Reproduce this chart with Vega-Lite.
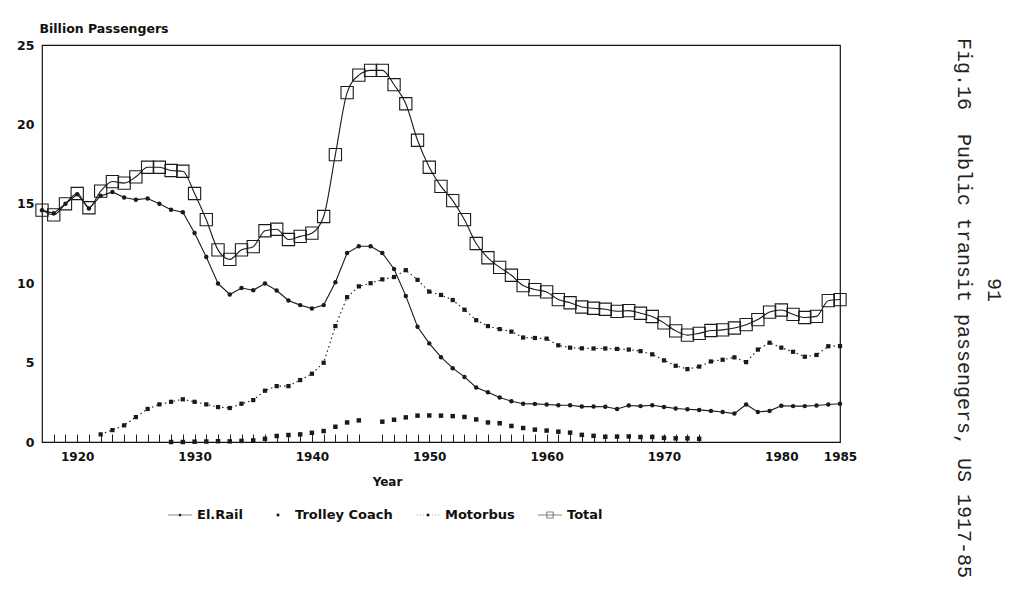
{
  "$schema": "https://vega.github.io/schema/vega-lite/v6.json",
  "width": 798,
  "height": 397,
  "autosize": {"type": "none"},
  "padding": {"left": 42, "top": 45, "right": 184, "bottom": 171},
  "background": "white",
  "config": {
    "view": {"stroke": "#111", "strokeWidth": 1.2},
    "axis": {"labelFont": "DejaVu Sans", "labelFontWeight": "bold", "labelColor": "#111", "titleFont": "DejaVu Sans", "titleFontWeight": "bold", "titleColor": "#111", "grid": false, "ticks": false, "domain": false}
  },
  "title": {
    "text": ["\u200b\u00a0\u00a0\u00a0\u00a0\u00a0\u00a0\u00a0\u00a0\u00a0\u00a0\u00a0\u00a0\u00a0\u00a0\u00a0\u00a0\u00a0\u00a0\u00a0\u00a091", "Fig.16\u00a0\u00a0Public transit passengers, US 1917-85"],
    "orient": "right",
    "anchor": "start",
    "frame": "group",
    "font": "Liberation Mono",
    "fontSize": 20,
    "fontWeight": "normal",
    "color": "#222",
    "lineHeight": 30,
    "offset": 97,
    "dx": -7
  },
  "datasets": {
    "passengers": [
      {"year": 1917, "series": "El.Rail", "value": 14.6}, {"year": 1918, "series": "El.Rail", "value": 14.4}, {"year": 1919, "series": "El.Rail", "value": 15.0},
      {"year": 1920, "series": "El.Rail", "value": 15.6}, {"year": 1921, "series": "El.Rail", "value": 14.7}, {"year": 1922, "series": "El.Rail", "value": 15.5},
      {"year": 1923, "series": "El.Rail", "value": 15.75}, {"year": 1924, "series": "El.Rail", "value": 15.4}, {"year": 1925, "series": "El.Rail", "value": 15.26},
      {"year": 1926, "series": "El.Rail", "value": 15.33}, {"year": 1927, "series": "El.Rail", "value": 15.0}, {"year": 1928, "series": "El.Rail", "value": 14.63},
      {"year": 1929, "series": "El.Rail", "value": 14.47}, {"year": 1930, "series": "El.Rail", "value": 13.16}, {"year": 1931, "series": "El.Rail", "value": 11.65},
      {"year": 1932, "series": "El.Rail", "value": 9.98}, {"year": 1933, "series": "El.Rail", "value": 9.29}, {"year": 1934, "series": "El.Rail", "value": 9.7},
      {"year": 1935, "series": "El.Rail", "value": 9.56}, {"year": 1936, "series": "El.Rail", "value": 9.98}, {"year": 1937, "series": "El.Rail", "value": 9.54},
      {"year": 1938, "series": "El.Rail", "value": 8.91}, {"year": 1939, "series": "El.Rail", "value": 8.62}, {"year": 1940, "series": "El.Rail", "value": 8.41},
      {"year": 1941, "series": "El.Rail", "value": 8.62}, {"year": 1942, "series": "El.Rail", "value": 10.06}, {"year": 1943, "series": "El.Rail", "value": 11.9},
      {"year": 1944, "series": "El.Rail", "value": 12.33}, {"year": 1945, "series": "El.Rail", "value": 12.33}, {"year": 1946, "series": "El.Rail", "value": 11.9},
      {"year": 1947, "series": "El.Rail", "value": 10.9}, {"year": 1948, "series": "El.Rail", "value": 9.2}, {"year": 1949, "series": "El.Rail", "value": 7.26},
      {"year": 1950, "series": "El.Rail", "value": 6.21}, {"year": 1951, "series": "El.Rail", "value": 5.34}, {"year": 1952, "series": "El.Rail", "value": 4.65},
      {"year": 1953, "series": "El.Rail", "value": 4.1}, {"year": 1954, "series": "El.Rail", "value": 3.43}, {"year": 1955, "series": "El.Rail", "value": 3.13},
      {"year": 1956, "series": "El.Rail", "value": 2.8}, {"year": 1957, "series": "El.Rail", "value": 2.57}, {"year": 1958, "series": "El.Rail", "value": 2.41},
      {"year": 1959, "series": "El.Rail", "value": 2.4}, {"year": 1960, "series": "El.Rail", "value": 2.36}, {"year": 1961, "series": "El.Rail", "value": 2.32},
      {"year": 1962, "series": "El.Rail", "value": 2.31}, {"year": 1963, "series": "El.Rail", "value": 2.23}, {"year": 1964, "series": "El.Rail", "value": 2.24},
      {"year": 1965, "series": "El.Rail", "value": 2.22}, {"year": 1966, "series": "El.Rail", "value": 2.08}, {"year": 1967, "series": "El.Rail", "value": 2.3},
      {"year": 1968, "series": "El.Rail", "value": 2.26}, {"year": 1969, "series": "El.Rail", "value": 2.31}, {"year": 1970, "series": "El.Rail", "value": 2.21},
      {"year": 1971, "series": "El.Rail", "value": 2.11}, {"year": 1972, "series": "El.Rail", "value": 2.06}, {"year": 1973, "series": "El.Rail", "value": 2.02},
      {"year": 1974, "series": "El.Rail", "value": 1.96}, {"year": 1975, "series": "El.Rail", "value": 1.89}, {"year": 1976, "series": "El.Rail", "value": 1.79},
      {"year": 1977, "series": "El.Rail", "value": 2.36}, {"year": 1978, "series": "El.Rail", "value": 1.89}, {"year": 1979, "series": "El.Rail", "value": 1.96},
      {"year": 1980, "series": "El.Rail", "value": 2.28}, {"year": 1981, "series": "El.Rail", "value": 2.26}, {"year": 1982, "series": "El.Rail", "value": 2.26},
      {"year": 1983, "series": "El.Rail", "value": 2.3}, {"year": 1984, "series": "El.Rail", "value": 2.36}, {"year": 1985, "series": "El.Rail", "value": 2.41},

      {"year": 1928, "series": "Trolley Coach", "value": 0.0}, {"year": 1929, "series": "Trolley Coach", "value": 0.0}, {"year": 1930, "series": "Trolley Coach", "value": 0.02},
      {"year": 1931, "series": "Trolley Coach", "value": 0.03}, {"year": 1932, "series": "Trolley Coach", "value": 0.05}, {"year": 1933, "series": "Trolley Coach", "value": 0.04},
      {"year": 1934, "series": "Trolley Coach", "value": 0.07}, {"year": 1935, "series": "Trolley Coach", "value": 0.1}, {"year": 1936, "series": "Trolley Coach", "value": 0.2},
      {"year": 1937, "series": "Trolley Coach", "value": 0.38}, {"year": 1938, "series": "Trolley Coach", "value": 0.44}, {"year": 1939, "series": "Trolley Coach", "value": 0.48},
      {"year": 1940, "series": "Trolley Coach", "value": 0.58}, {"year": 1941, "series": "Trolley Coach", "value": 0.69}, {"year": 1942, "series": "Trolley Coach", "value": 0.96},
      {"year": 1943, "series": "Trolley Coach", "value": 1.23}, {"year": 1944, "series": "Trolley Coach", "value": 1.36}, {"year": 1946, "series": "Trolley Coach", "value": 1.28},
      {"year": 1947, "series": "Trolley Coach", "value": 1.4}, {"year": 1948, "series": "Trolley Coach", "value": 1.55}, {"year": 1949, "series": "Trolley Coach", "value": 1.66},
      {"year": 1950, "series": "Trolley Coach", "value": 1.67}, {"year": 1951, "series": "Trolley Coach", "value": 1.66}, {"year": 1952, "series": "Trolley Coach", "value": 1.63},
      {"year": 1953, "series": "Trolley Coach", "value": 1.58}, {"year": 1954, "series": "Trolley Coach", "value": 1.42}, {"year": 1955, "series": "Trolley Coach", "value": 1.23},
      {"year": 1956, "series": "Trolley Coach", "value": 1.18}, {"year": 1957, "series": "Trolley Coach", "value": 1.01}, {"year": 1958, "series": "Trolley Coach", "value": 0.88},
      {"year": 1959, "series": "Trolley Coach", "value": 0.78}, {"year": 1960, "series": "Trolley Coach", "value": 0.72}, {"year": 1961, "series": "Trolley Coach", "value": 0.65},
      {"year": 1962, "series": "Trolley Coach", "value": 0.59}, {"year": 1963, "series": "Trolley Coach", "value": 0.45}, {"year": 1964, "series": "Trolley Coach", "value": 0.39},
      {"year": 1965, "series": "Trolley Coach", "value": 0.33}, {"year": 1966, "series": "Trolley Coach", "value": 0.34}, {"year": 1967, "series": "Trolley Coach", "value": 0.35},
      {"year": 1968, "series": "Trolley Coach", "value": 0.31}, {"year": 1969, "series": "Trolley Coach", "value": 0.32}, {"year": 1970, "series": "Trolley Coach", "value": 0.26},
      {"year": 1971, "series": "Trolley Coach", "value": 0.23}, {"year": 1972, "series": "Trolley Coach", "value": 0.23}, {"year": 1973, "series": "Trolley Coach", "value": 0.2},

      {"year": 1922, "series": "Motorbus", "value": 0.48}, {"year": 1923, "series": "Motorbus", "value": 0.75}, {"year": 1924, "series": "Motorbus", "value": 1.05},
      {"year": 1925, "series": "Motorbus", "value": 1.57}, {"year": 1926, "series": "Motorbus", "value": 2.08}, {"year": 1927, "series": "Motorbus", "value": 2.37},
      {"year": 1928, "series": "Motorbus", "value": 2.53}, {"year": 1929, "series": "Motorbus", "value": 2.69}, {"year": 1930, "series": "Motorbus", "value": 2.53},
      {"year": 1931, "series": "Motorbus", "value": 2.37}, {"year": 1932, "series": "Motorbus", "value": 2.2}, {"year": 1933, "series": "Motorbus", "value": 2.14},
      {"year": 1934, "series": "Motorbus", "value": 2.41}, {"year": 1935, "series": "Motorbus", "value": 2.64}, {"year": 1936, "series": "Motorbus", "value": 3.23},
      {"year": 1937, "series": "Motorbus", "value": 3.52}, {"year": 1938, "series": "Motorbus", "value": 3.52}, {"year": 1939, "series": "Motorbus", "value": 3.9},
      {"year": 1940, "series": "Motorbus", "value": 4.3}, {"year": 1941, "series": "Motorbus", "value": 4.99}, {"year": 1942, "series": "Motorbus", "value": 7.3},
      {"year": 1943, "series": "Motorbus", "value": 9.12}, {"year": 1944, "series": "Motorbus", "value": 9.8}, {"year": 1945, "series": "Motorbus", "value": 10.0},
      {"year": 1946, "series": "Motorbus", "value": 10.24}, {"year": 1947, "series": "Motorbus", "value": 10.39}, {"year": 1948, "series": "Motorbus", "value": 10.82},
      {"year": 1949, "series": "Motorbus", "value": 10.21}, {"year": 1950, "series": "Motorbus", "value": 9.47}, {"year": 1951, "series": "Motorbus", "value": 9.26},
      {"year": 1952, "series": "Motorbus", "value": 8.94}, {"year": 1953, "series": "Motorbus", "value": 8.33}, {"year": 1954, "series": "Motorbus", "value": 7.67},
      {"year": 1955, "series": "Motorbus", "value": 7.3}, {"year": 1956, "series": "Motorbus", "value": 7.11}, {"year": 1957, "series": "Motorbus", "value": 6.95},
      {"year": 1958, "series": "Motorbus", "value": 6.58}, {"year": 1959, "series": "Motorbus", "value": 6.55}, {"year": 1960, "series": "Motorbus", "value": 6.51},
      {"year": 1961, "series": "Motorbus", "value": 6.09}, {"year": 1962, "series": "Motorbus", "value": 5.94}, {"year": 1963, "series": "Motorbus", "value": 5.9},
      {"year": 1964, "series": "Motorbus", "value": 5.89}, {"year": 1965, "series": "Motorbus", "value": 5.89}, {"year": 1966, "series": "Motorbus", "value": 5.86},
      {"year": 1967, "series": "Motorbus", "value": 5.82}, {"year": 1968, "series": "Motorbus", "value": 5.72}, {"year": 1969, "series": "Motorbus", "value": 5.52},
      {"year": 1970, "series": "Motorbus", "value": 5.14}, {"year": 1971, "series": "Motorbus", "value": 4.8}, {"year": 1972, "series": "Motorbus", "value": 4.59},
      {"year": 1973, "series": "Motorbus", "value": 4.75}, {"year": 1974, "series": "Motorbus", "value": 5.07}, {"year": 1975, "series": "Motorbus", "value": 5.18},
      {"year": 1976, "series": "Motorbus", "value": 5.33}, {"year": 1977, "series": "Motorbus", "value": 5.03}, {"year": 1978, "series": "Motorbus", "value": 5.82},
      {"year": 1979, "series": "Motorbus", "value": 6.25}, {"year": 1980, "series": "Motorbus", "value": 5.94}, {"year": 1981, "series": "Motorbus", "value": 5.68},
      {"year": 1982, "series": "Motorbus", "value": 5.37}, {"year": 1983, "series": "Motorbus", "value": 5.48}, {"year": 1984, "series": "Motorbus", "value": 6.03},
      {"year": 1985, "series": "Motorbus", "value": 6.04},

      {"year": 1917, "series": "Total", "value": 14.6}, {"year": 1918, "series": "Total", "value": 14.3}, {"year": 1919, "series": "Total", "value": 15.0},
      {"year": 1920, "series": "Total", "value": 15.65}, {"year": 1921, "series": "Total", "value": 14.75}, {"year": 1922, "series": "Total", "value": 15.8},
      {"year": 1923, "series": "Total", "value": 16.4}, {"year": 1924, "series": "Total", "value": 16.3}, {"year": 1925, "series": "Total", "value": 16.7},
      {"year": 1926, "series": "Total", "value": 17.3}, {"year": 1927, "series": "Total", "value": 17.3}, {"year": 1928, "series": "Total", "value": 17.1},
      {"year": 1929, "series": "Total", "value": 17.05}, {"year": 1930, "series": "Total", "value": 15.65}, {"year": 1931, "series": "Total", "value": 14.0},
      {"year": 1932, "series": "Total", "value": 12.1}, {"year": 1933, "series": "Total", "value": 11.5}, {"year": 1934, "series": "Total", "value": 12.1},
      {"year": 1935, "series": "Total", "value": 12.3}, {"year": 1936, "series": "Total", "value": 13.3}, {"year": 1937, "series": "Total", "value": 13.4},
      {"year": 1938, "series": "Total", "value": 12.75}, {"year": 1939, "series": "Total", "value": 12.95}, {"year": 1940, "series": "Total", "value": 13.15},
      {"year": 1941, "series": "Total", "value": 14.2}, {"year": 1942, "series": "Total", "value": 18.1}, {"year": 1943, "series": "Total", "value": 22.0},
      {"year": 1944, "series": "Total", "value": 23.1}, {"year": 1945, "series": "Total", "value": 23.4}, {"year": 1946, "series": "Total", "value": 23.4},
      {"year": 1947, "series": "Total", "value": 22.5}, {"year": 1948, "series": "Total", "value": 21.3}, {"year": 1949, "series": "Total", "value": 19.0},
      {"year": 1950, "series": "Total", "value": 17.3}, {"year": 1951, "series": "Total", "value": 16.1}, {"year": 1952, "series": "Total", "value": 15.2},
      {"year": 1953, "series": "Total", "value": 14.0}, {"year": 1954, "series": "Total", "value": 12.5}, {"year": 1955, "series": "Total", "value": 11.6},
      {"year": 1956, "series": "Total", "value": 11.0}, {"year": 1957, "series": "Total", "value": 10.5}, {"year": 1958, "series": "Total", "value": 9.85},
      {"year": 1959, "series": "Total", "value": 9.6}, {"year": 1960, "series": "Total", "value": 9.45}, {"year": 1961, "series": "Total", "value": 8.97},
      {"year": 1962, "series": "Total", "value": 8.77}, {"year": 1963, "series": "Total", "value": 8.5}, {"year": 1964, "series": "Total", "value": 8.42},
      {"year": 1965, "series": "Total", "value": 8.36}, {"year": 1966, "series": "Total", "value": 8.23}, {"year": 1967, "series": "Total", "value": 8.27},
      {"year": 1968, "series": "Total", "value": 8.11}, {"year": 1969, "series": "Total", "value": 7.9}, {"year": 1970, "series": "Total", "value": 7.5},
      {"year": 1971, "series": "Total", "value": 7.0}, {"year": 1972, "series": "Total", "value": 6.73}, {"year": 1973, "series": "Total", "value": 6.84},
      {"year": 1974, "series": "Total", "value": 7.02}, {"year": 1975, "series": "Total", "value": 7.06}, {"year": 1976, "series": "Total", "value": 7.18},
      {"year": 1977, "series": "Total", "value": 7.39}, {"year": 1978, "series": "Total", "value": 7.71}, {"year": 1979, "series": "Total", "value": 8.18},
      {"year": 1980, "series": "Total", "value": 8.31}, {"year": 1981, "series": "Total", "value": 8.04}, {"year": 1982, "series": "Total", "value": 7.84},
      {"year": 1983, "series": "Total", "value": 7.91}, {"year": 1984, "series": "Total", "value": 8.9}, {"year": 1985, "series": "Total", "value": 8.97}
    ]
  },
  "data": {"name": "passengers"},
  "encoding": {
    "x": {
      "field": "year", "type": "quantitative",
      "scale": {"domain": [1917, 1985], "nice": false, "zero": false},
      "axis": {
        "values": [1918, 1919, 1920, 1921, 1922, 1923, 1924, 1925, 1926, 1927, 1928, 1929, 1930, 1931, 1932, 1933, 1934, 1935, 1936, 1937, 1938, 1939, 1940, 1941, 1942, 1943, 1944,
                   1946, 1947, 1948, 1949, 1950, 1951, 1952, 1953, 1954, 1955, 1956, 1957, 1958, 1959, 1960, 1961, 1962, 1963, 1964, 1965, 1966, 1967, 1968, 1969, 1970, 1971, 1972, 1973, 1980, 1985],
        "format": "d",
        "labelExpr": "datum.value % 10 === 0 || datum.value === 1985 ? datum.label : ''",
        "labelOverlap": false,
        "ticks": true, "tickSize": -8, "tickColor": "#222", "tickWidth": 1,
        "tickOpacity": {"condition": {"test": "datum.value > 1973", "value": 0}, "value": 1},
        "labelFontSize": 12, "labelPadding": 17, "labelFlush": false,
        "title": "Year", "titleFontSize": 12, "titleX": 345, "titleY": 34, "titleBaseline": "top", "titleAnchor": null
      }
    },
    "y": {
      "field": "value", "type": "quantitative",
      "scale": {"domain": [0, 25], "nice": false},
      "axis": {"values": [0, 5, 10, 15, 20, 25], "labelFontSize": 12.5, "labelPadding": 8, "title": "Billion Passengers", "titleFontSize": 12.5, "titleAngle": 0, "titleAlign": "left", "titleBaseline": "middle", "titleX": -3, "titleY": -17}
    }
  },
  "layer": [
    {
      "transform": [{"filter": "datum.series === 'El.Rail'"}],
      "mark": {"type": "line", "color": "#1a1a1a", "strokeWidth": 1.1},
      "encoding": {}
    },
    {
      "transform": [{"filter": "datum.series === 'Motorbus'"}],
      "mark": {"type": "line", "color": "#1a1a1a", "strokeWidth": 1.1, "strokeDash": [1.5, 3]},
      "encoding": {}
    },
    {
      "transform": [{"filter": "datum.series === 'Total'"}],
      "mark": {"type": "line", "color": "#1a1a1a", "strokeWidth": 1.1, "interpolate": "monotone"},
      "encoding": {}
    },
    {
      "transform": [{"filter": "datum.series === 'El.Rail'"}],
      "mark": {"type": "point", "shape": "circle", "filled": true, "color": "#1a1a1a", "size": 20, "opacity": 1},
      "encoding": {}
    },
    {
      "transform": [{"filter": "datum.series === 'Trolley Coach'"}],
      "mark": {"type": "point", "shape": "square", "filled": true, "color": "#1a1a1a", "size": 20, "opacity": 1},
      "encoding": {}
    },
    {
      "transform": [{"filter": "datum.series === 'Motorbus'"}],
      "mark": {"type": "point", "shape": "square", "filled": true, "color": "#1a1a1a", "size": 18, "opacity": 1},
      "encoding": {}
    },
    {
      "transform": [{"filter": "datum.series === 'Total'"}],
      "mark": {"type": "point", "shape": "square", "filled": false, "color": "#1a1a1a", "size": 150, "strokeWidth": 1.1, "opacity": 1},
      "encoding": {}
    },
    {
      "transform": [{"filter": "datum.year < 0"}],
      "mark": {"type": "point", "filled": true, "color": "#111", "opacity": 1},
      "encoding": {
        "shape": {
          "field": "series", "type": "nominal",
          "scale": {
            "domain": ["El.Rail", "Trolley Coach", "Motorbus", "Total"],
            "range": [
              "M-1,-0.023H1V0.023H-1ZM-0.11,0A0.11,0.11,0,1,1,0.11,0A0.11,0.11,0,1,1,-0.11,0Z",
              "M-0.11,-0.11H0.11V0.11H-0.11Z",
              "M-0.93,-0.025H-0.86V0.025H-0.93ZM-0.68,-0.025H-0.61V0.025H-0.68ZM-0.43,-0.025H-0.36V0.025H-0.43ZM0.36,-0.025H0.43V0.025H0.36ZM0.61,-0.025H0.68V0.025H0.61ZM0.86,-0.025H0.93V0.025H0.86ZM-0.11,-0.11H0.11V0.11H-0.11Z",
              "M-1,-0.023H1V0.023H-1ZM-0.28,-0.28H0.28V0.28H-0.28ZM-0.235,-0.235V0.235H0.235V-0.235Z"
            ]
          },
          "legend": {
            "title": null, "orient": "none", "legendX": 126, "legendY": 458, "direction": "horizontal",
            "columnPadding": 23, "labelOffset": 5, "labelFont": "DejaVu Sans", "labelFontWeight": "bold", "labelFontSize": 13, "labelColor": "#111",
            "symbolSize": 576, "symbolStrokeWidth": 0, "symbolFillColor": "#111"
          }
        }
      }
    }
  ]
}
